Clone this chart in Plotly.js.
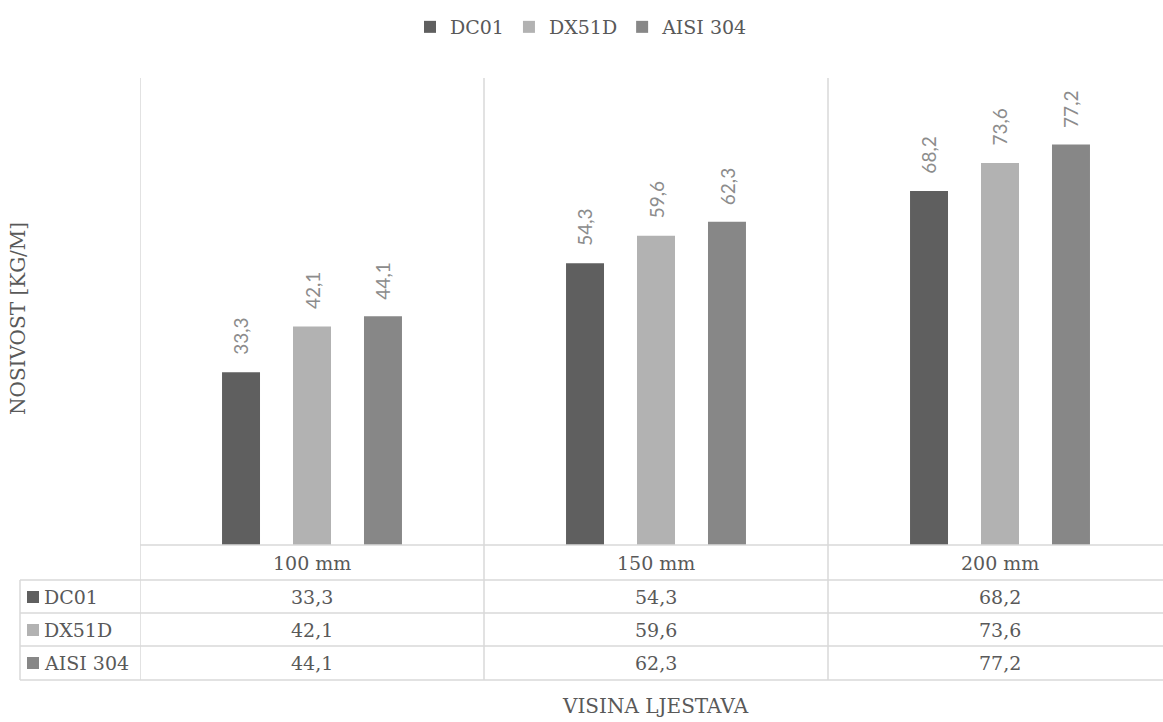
<!DOCTYPE html>
<html><head><meta charset="utf-8">
<script src="https://cdn.plot.ly/plotly-3.0.1.min.js"></script>
<style>html,body{margin:0;padding:0;background:#fff;}#chart{width:1163px;height:722px;}</style>
</head><body><div id="chart"></div>
<script>
const categories = ['100 mm', '150 mm', '200 mm'];
const seriesNames = ['DC01', 'DX51D', 'AISI 304'];
const dc01 = [33.3, 54.3, 68.2];
const dx51d = [42.1, 59.6, 73.6];
const aisi304 = [44.1, 62.3, 77.2];
const seriesValues = [dc01, dx51d, aisi304];
const colors = ['#5f5f5f', '#b2b2b2', '#878787'];

const W = 1163, H = 722;
const L = 140, T = 78, B = 545, R = 1163;
const plotW = R - L, plotH = B - T;
const px = x => (x - L) / plotW;
const py = y => (B - y) / plotH;
const BARGAP = 0.381, BARGROUPGAP = 0.465;
const slot = (1 - BARGAP) / seriesNames.length;

const serif = 'DejaVu Serif, Liberation Serif, serif';
const textCol = '#595959';
const gridCol = '#d9d9d9';
const fmt = v => v.toFixed(1).replace('.', ',');

const traces = seriesNames.map((n, i) => ({
  type: 'bar', name: n, x: categories.map((c, k) => k), y: seriesValues[i],
  marker: {color: colors[i]},
  cliponaxis: false, hoverinfo: 'skip'
}));

const shapes = [];
const annotations = [];
// data labels
seriesValues.forEach((vals, s) => vals.forEach((v, k) => annotations.push({
  xref: 'x', yref: 'y', x: k + (s - (seriesNames.length - 1) / 2) * slot, y: v, yshift: 15,
  text: fmt(v), textangle: -90, showarrow: false, xanchor: 'center', yanchor: 'bottom',
  font: {family: 'Lato, Open Sans, sans-serif', size: 19, color: '#8c8c8c'}
})));
[-0.5, 0.5, 1.5].forEach(x => shapes.push({type: 'line', xref: 'x', yref: 'paper', x0: x, x1: x, y0: 1, y1: py(680), line: {color: gridCol, width: 1.5}}));
shapes.push({type: 'line', xref: 'x', yref: 'paper', x0: -0.5, x1: 2.6, y0: 0, y1: 0, line: {color: gridCol, width: 1.5}});
[580, 613, 646, 680].forEach(y => shapes.push({type: 'line', xref: 'paper', yref: 'paper', x0: px(20), x1: 1.01, y0: py(y), y1: py(y), line: {color: gridCol, width: 1.5}}));
shapes.push({type: 'line', xref: 'paper', yref: 'paper', x0: px(20), x1: px(20), y0: py(580), y1: py(680), line: {color: gridCol, width: 1.5}});

const tf = {family: serif, size: 19, color: textCol};
const titleFont = {family: serif, size: 20, color: textCol};
categories.forEach((c, i) => annotations.push({xref: 'x', yref: 'paper', x: i, y: py(563), text: c, showarrow: false, xanchor: 'center', yanchor: 'middle', font: tf}));
const rowY = [597, 630, 663];
seriesNames.forEach((n, r) => {
  shapes.push({type: 'rect', xref: 'paper', yref: 'paper', x0: px(27), x1: px(39), y0: py(rowY[r] + 6), y1: py(rowY[r] - 6), fillcolor: colors[r], line: {width: 0}});
  annotations.push({xref: 'paper', yref: 'paper', x: px(42), y: py(rowY[r]), text: n, showarrow: false, xanchor: 'left', yanchor: 'middle', font: tf});
  seriesValues[r].forEach((v, i) => annotations.push({xref: 'x', yref: 'paper', x: i, y: py(rowY[r]), text: fmt(v), showarrow: false, xanchor: 'center', yanchor: 'middle', font: tf}));
});
annotations.push({xref: 'paper', yref: 'paper', x: px(18), y: py(319), text: 'NOSIVOST [KG/M]', textangle: -90, showarrow: false, xanchor: 'center', yanchor: 'middle', font: titleFont});
annotations.push({xref: 'paper', yref: 'paper', x: px(655), y: py(706), text: 'VISINA LJESTAVA', showarrow: false, xanchor: 'center', yanchor: 'middle', font: titleFont});

const layout = {
  width: W, height: H,
  margin: {l: L, r: W - R, t: T, b: H - B, pad: 0},
  paper_bgcolor: '#fff', plot_bgcolor: '#fff',
  barmode: 'group', bargap: BARGAP, bargroupgap: BARGROUPGAP,
  separators: ',.',
  showlegend: true,
  legend: {orientation: 'h', xref: 'container', yref: 'container', x: 0.5, xanchor: 'center', y: 1 - 27 / H, yanchor: 'middle',
           font: {family: serif, size: 19, color: textCol}, traceorder: 'normal', itemwidth: 30},
  xaxis: {type: 'linear', range: [-0.5, -0.5 + plotW / 344], showgrid: false, zeroline: false, showticklabels: false, showline: false, ticks: '', fixedrange: true},
  yaxis: {range: [0, 90], showgrid: false, zeroline: false, showticklabels: false, showline: false, ticks: '', fixedrange: true},
  shapes: shapes, annotations: annotations
};
Plotly.newPlot('chart', traces, layout, {displayModeBar: false, staticPlot: true});
</script></body></html>
